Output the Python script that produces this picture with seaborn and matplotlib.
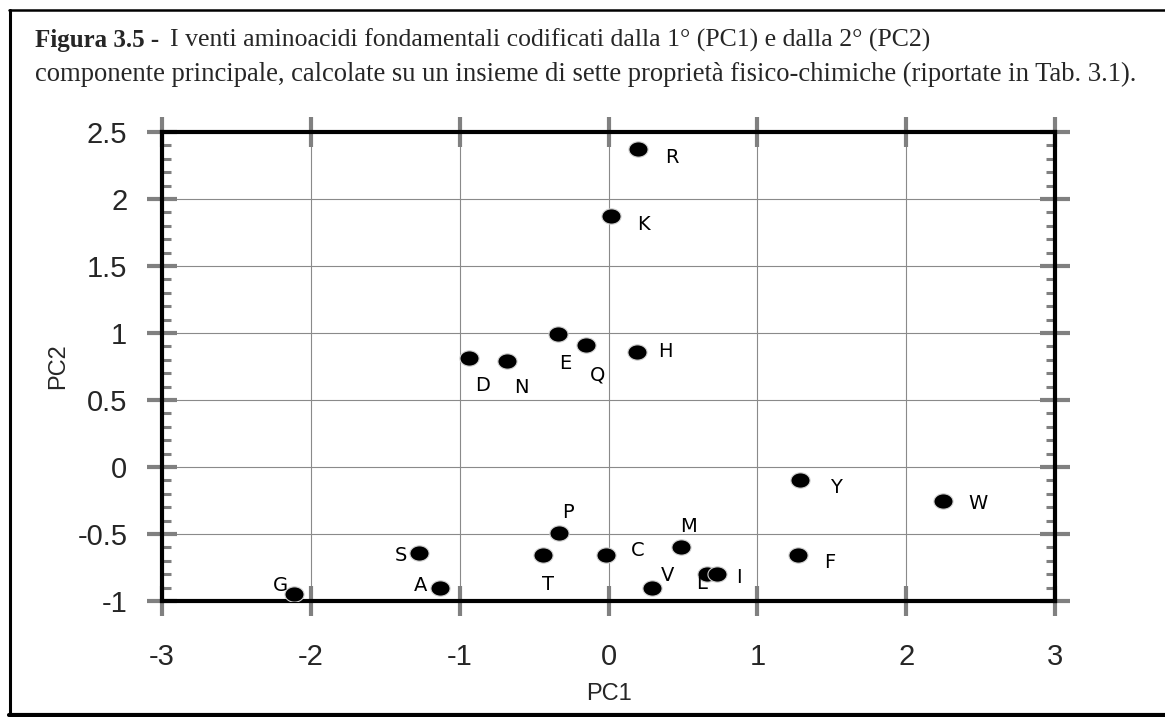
import matplotlib
matplotlib.use("Agg")
import matplotlib.pyplot as plt
from matplotlib.lines import Line2D
from matplotlib.path import Path
from matplotlib.ticker import MultipleLocator
import numpy as np
import pandas as pd
import seaborn as sns

# ---- data ----
amino = ["R", "K", "H", "E", "Q", "D", "N", "Y", "W", "F",
         "M", "C", "P", "T", "V", "L", "I", "S", "A", "G"]
pc1 = [0.20, 0.02, 0.19, -0.34, -0.15, -0.94, -0.68, 1.29, 2.25, 1.27,
       0.49, -0.02, -0.33, -0.44, 0.29, 0.66, 0.73, -1.27, -1.13, -2.11]
pc2 = [2.37, 1.87, 0.86, 0.99, 0.91, 0.81, 0.79, -0.10, -0.25, -0.66,
       -0.60, -0.66, -0.49, -0.66, -0.90, -0.80, -0.80, -0.64, -0.90, -0.95]
x_ticks = [-3, -2, -1, 0, 1, 2, 3]
x_tick_labels = ["-3", "-2", "-1", "0", "1", "2", "3"]
y_ticks = [-1, -0.5, 0, 0.5, 1, 1.5, 2, 2.5]
y_tick_labels = ["-1", "-0.5", "0", "0.5", "1", "1.5", "2", "2.5"]

title_bold = "Figura 3.5 -"
title_line1 = "I venti aminoacidi fondamentali codificati dalla 1° (PC1) e dalla 2° (PC2)"
title_line2 = ("componente principale, calcolate su un insieme di sette proprietà "
               "fisico-chimiche (riportate in Tab. 3.1).")

# label offsets (pixels, right/down positive) - placement style only
label_offsets = {
    "R": (34, 8), "K": (32, 8), "H": (29, 0), "E": (7, 29), "Q": (11, 30),
    "D": (14, 27), "N": (14, 26), "Y": (35, 7), "W": (35, 3), "F": (32, 7),
    "M": (7, -21), "C": (32, -5), "P": (9, -20), "T": (5, 29), "V": (16, -12),
    "L": (-5, 9), "I": (22, 3), "S": (-19, 3), "A": (-20, -2), "G": (-14, -9),
}

df = pd.DataFrame({"aa": amino, "PC1": pc1, "PC2": pc2})

sns.set_style("white")
plt.rcParams["font.family"] = ["Liberation Sans", "DejaVu Sans"]

W, H = 1165, 717
fig = plt.figure(figsize=(W / 100, H / 100), dpi=100)
ax = fig.add_axes([162 / W, 1 - 601 / H, (1055 - 162) / W, (601 - 132) / H])

# elliptical marker
t = np.linspace(0, 2 * np.pi, 60)
verts = np.column_stack([np.cos(t), 0.8 * np.sin(t)])
ell = Path(verts, closed=True)

sns.scatterplot(data=df, x="PC1", y="PC2", ax=ax, marker=ell, s=190,
                color="black", edgecolor="#d0d0d0", linewidth=0.8, zorder=3,
                legend=False)

for a, x, y in zip(amino, pc1, pc2):
    dx, dy = label_offsets[a]
    ax.annotate(a, (x, y), xytext=(dx * 0.72, -dy * 0.72),
                textcoords="offset points", ha="center", va="center",
                fontsize=14, family="DejaVu Sans", color="black", zorder=4)

ax.set_xlim(-3, 3)
ax.set_ylim(-1, 2.5)
ax.set_xticks(x_ticks)
ax.set_xticklabels(x_tick_labels)
ax.set_yticks(y_ticks)
ax.set_yticklabels(y_tick_labels)
ax.yaxis.set_minor_locator(MultipleLocator(0.1))

ax.grid(True, which="major", color="#8a8a8a", linewidth=0.8, zorder=0)
ax.set_axisbelow(True)

for sp in ax.spines.values():
    sp.set_visible(True)
    sp.set_color("black")
    sp.set_linewidth(3.0)

ax.tick_params(which="major", direction="inout", length=22, width=3,
               color="#808080", labelsize=21, top=True, right=True,
               bottom=True, left=True, labeltop=False, labelright=False)
ax.tick_params(axis="y", which="major", pad=14)
ax.tick_params(axis="x", which="major", pad=19)
ax.tick_params(axis="y", which="minor", direction="in", length=6.5, width=2.2,
               color="#808080", left=True, right=True)

ax.set_xlabel("PC1", fontsize=17, labelpad=9)
ax.set_ylabel("PC2", fontsize=17, labelpad=6)

# title
tb = fig.text(35 / W, 1 - 47 / H, title_bold, family="Liberation Serif",
              fontweight="bold", fontsize=18, ha="left", va="baseline")
fig.canvas.draw()
bb = tb.get_window_extent(renderer=fig.canvas.get_renderer())
fig.text((bb.x1 + 11) / W, 1 - 47 / H, title_line1, family="Liberation Serif",
         fontsize=18.5, ha="left", va="baseline")
fig.text(35 / W, 1 - 81 / H, title_line2, family="Liberation Serif",
         fontsize=19.2, ha="left", va="baseline")

# figure frame
fig.add_artist(Line2D([10 / W, 10 / W], [1 - 10 / H, 1 - 715 / H],
                      transform=fig.transFigure, color="black", lw=2.2))
fig.add_artist(Line2D([9 / W, 1.0], [1 - 10 / H, 1 - 10 / H],
                      transform=fig.transFigure, color="black", lw=1.8))
fig.add_artist(Line2D([9 / W, 1.0], [1 - 714.5 / H, 1 - 714.5 / H],
                      transform=fig.transFigure, color="black", lw=3))

fig.savefig("out.png", dpi=100, facecolor="white")
